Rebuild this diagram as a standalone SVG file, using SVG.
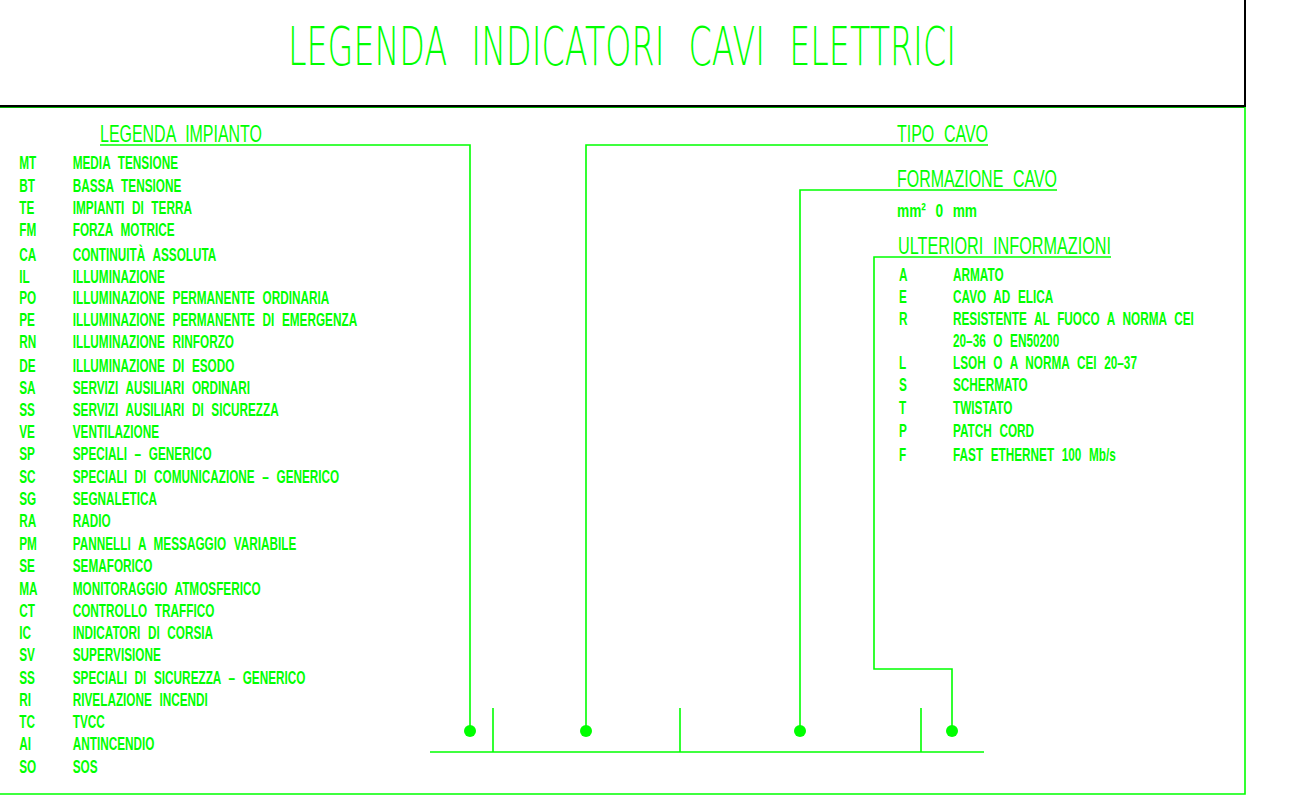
<svg xmlns="http://www.w3.org/2000/svg" width="1289" height="796" viewBox="0 0 1289 796">
<style>
.t{font-family:"Liberation Sans",Arial,sans-serif;fill:#00ff00}
.it{font-size:19px;font-weight:bold;word-spacing:7px}
.hd{font-size:24px;word-spacing:8px}
.tt{font-family:"DejaVu Sans","Liberation Sans",sans-serif;font-weight:200;font-size:54px;word-spacing:22px}
.ln{stroke:#00ff00;stroke-width:1.6;fill:none}
.dot{fill:#00ff00}
</style>
<rect width="1289" height="796" fill="#ffffff"/>
<g id="frame">
<line x1="0" y1="107.5" x2="1245" y2="107.5" stroke="#00b000" stroke-width="1"/>
<polyline points="0,106 1245,106 1245,0" fill="none" stroke="#000000" stroke-width="2"/>
<polyline points="1245,107 1245,794 0,794" class="ln" stroke-width="2"/>
</g>
<g id="title">
<text class="t tt" x="288" y="65" textLength="668" lengthAdjust="spacingAndGlyphs">LEGENDA INDICATORI CAVI ELETTRICI</text>
</g>
<g id="legenda-impianto">
<text class="t hd" x="100" y="142" textLength="162" lengthAdjust="spacingAndGlyphs">LEGENDA IMPIANTO</text>
<g transform="scale(0.62 1)">
<text class="t it" x="31.1" y="169">MT</text><text class="t it" x="117.3" y="169">MEDIA TENSIONE</text>
<text class="t it" x="31.1" y="192">BT</text><text class="t it" x="117.3" y="192">BASSA TENSIONE</text>
<text class="t it" x="31.1" y="214">TE</text><text class="t it" x="117.3" y="214">IMPIANTI DI TERRA</text>
<text class="t it" x="31.1" y="236">FM</text><text class="t it" x="117.3" y="236">FORZA MOTRICE</text>
<text class="t it" x="31.1" y="261">CA</text><text class="t it" x="117.3" y="261">CONTINUITÀ ASSOLUTA</text>
<text class="t it" x="31.1" y="283">IL</text><text class="t it" x="117.3" y="283">ILLUMINAZIONE</text>
<text class="t it" x="31.1" y="304">PO</text><text class="t it" x="117.3" y="304">ILLUMINAZIONE PERMANENTE ORDINARIA</text>
<text class="t it" x="31.1" y="326">PE</text><text class="t it" x="117.3" y="326">ILLUMINAZIONE PERMANENTE DI EMERGENZA</text>
<text class="t it" x="31.1" y="348">RN</text><text class="t it" x="117.3" y="348">ILLUMINAZIONE RINFORZO</text>
<text class="t it" x="31.1" y="372">DE</text><text class="t it" x="117.3" y="372">ILLUMINAZIONE DI ESODO</text>
<text class="t it" x="31.1" y="394">SA</text><text class="t it" x="117.3" y="394">SERVIZI AUSILIARI ORDINARI</text>
<text class="t it" x="31.1" y="416">SS</text><text class="t it" x="117.3" y="416">SERVIZI AUSILIARI DI SICUREZZA</text>
<text class="t it" x="31.1" y="438">VE</text><text class="t it" x="117.3" y="438">VENTILAZIONE</text>
<text class="t it" x="31.1" y="460">SP</text><text class="t it" x="117.3" y="460">SPECIALI – GENERICO</text>
<text class="t it" x="31.1" y="483">SC</text><text class="t it" x="117.3" y="483">SPECIALI DI COMUNICAZIONE – GENERICO</text>
<text class="t it" x="31.1" y="505">SG</text><text class="t it" x="117.3" y="505">SEGNALETICA</text>
<text class="t it" x="31.1" y="527">RA</text><text class="t it" x="117.3" y="527">RADIO</text>
<text class="t it" x="31.1" y="550">PM</text><text class="t it" x="117.3" y="550">PANNELLI A MESSAGGIO VARIABILE</text>
<text class="t it" x="31.1" y="572">SE</text><text class="t it" x="117.3" y="572">SEMAFORICO</text>
<text class="t it" x="31.1" y="595">MA</text><text class="t it" x="117.3" y="595">MONITORAGGIO ATMOSFERICO</text>
<text class="t it" x="31.1" y="617">CT</text><text class="t it" x="117.3" y="617">CONTROLLO TRAFFICO</text>
<text class="t it" x="31.1" y="639">IC</text><text class="t it" x="117.3" y="639">INDICATORI DI CORSIA</text>
<text class="t it" x="31.1" y="661">SV</text><text class="t it" x="117.3" y="661">SUPERVISIONE</text>
<text class="t it" x="31.1" y="684">SS</text><text class="t it" x="117.3" y="684">SPECIALI DI SICUREZZA – GENERICO</text>
<text class="t it" x="31.1" y="706">RI</text><text class="t it" x="117.3" y="706">RIVELAZIONE INCENDI</text>
<text class="t it" x="31.1" y="728">TC</text><text class="t it" x="117.3" y="728">TVCC</text>
<text class="t it" x="31.1" y="750">AI</text><text class="t it" x="117.3" y="750">ANTINCENDIO</text>
<text class="t it" x="31.1" y="773">SO</text><text class="t it" x="117.3" y="773">SOS</text>
</g>
</g>
<g id="tipo-cavo">
<text class="t hd" x="897" y="142" textLength="91" lengthAdjust="spacingAndGlyphs">TIPO CAVO</text>
</g>
<g id="formazione-cavo">
<text class="t hd" x="897" y="187" textLength="160" lengthAdjust="spacingAndGlyphs">FORMAZIONE CAVO</text>
<text class="t it" x="897" y="217" textLength="80" lengthAdjust="spacingAndGlyphs" style="word-spacing:8px">mm² 0 mm</text>
</g>
<g id="ulteriori-informazioni">
<text class="t hd" x="898" y="254" textLength="213" lengthAdjust="spacingAndGlyphs">ULTERIORI INFORMAZIONI</text>
<g transform="scale(0.62 1)">
<text class="t it" x="1450" y="281">A</text><text class="t it" x="1537.1" y="281">ARMATO</text>
<text class="t it" x="1450" y="303">E</text><text class="t it" x="1537.1" y="303">CAVO AD ELICA</text>
<text class="t it" x="1450" y="325">R</text><text class="t it" x="1537.1" y="325">RESISTENTE AL FUOCO A NORMA CEI</text>
<text class="t it" x="1537.1" y="347">20–36 O EN50200</text>
<text class="t it" x="1450" y="369">L</text><text class="t it" x="1537.1" y="369">LSOH O A NORMA CEI 20–37</text>
<text class="t it" x="1450" y="391">S</text><text class="t it" x="1537.1" y="391">SCHERMATO</text>
<text class="t it" x="1450" y="414">T</text><text class="t it" x="1537.1" y="414">TWISTATO</text>
<text class="t it" x="1450" y="437">P</text><text class="t it" x="1537.1" y="437">PATCH CORD</text>
<text class="t it" x="1450" y="461">F</text><text class="t it" x="1537.1" y="461">FAST ETHERNET 100 Mb/s</text>
</g>
</g>
<g id="connectors">
<polyline class="ln" points="100,145 470,145 470,730"/>
<polyline class="ln" points="988,145 586,145 586,730"/>
<polyline class="ln" points="1057,190 800,190 800,730"/>
<polyline class="ln" points="1111,257 874,257 874,669 952,669 952,730"/>
<line class="ln" x1="430" y1="752" x2="984" y2="752"/>
<line class="ln" x1="493" y1="708" x2="493" y2="752"/>
<line class="ln" x1="680" y1="708" x2="680" y2="752"/>
<line class="ln" x1="921" y1="708" x2="921" y2="752"/>
<circle class="dot" cx="470" cy="731" r="6"/>
<circle class="dot" cx="586" cy="731" r="6"/>
<circle class="dot" cx="800" cy="731" r="6"/>
<circle class="dot" cx="952" cy="731" r="6"/>
</g>
</svg>
